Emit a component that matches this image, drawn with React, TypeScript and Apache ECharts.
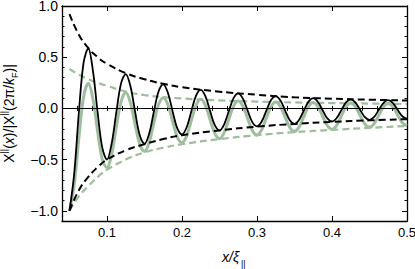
import React, { useEffect, useRef } from "react";
import * as echarts from "echarts";

const curveX = [
  0.05, 0.05625, 0.0625, 0.06875, 0.075, 0.08125, 0.0875, 0.09375,
  0.1, 0.10625, 0.1125, 0.11875, 0.125, 0.13125, 0.1375, 0.14375,
  0.15, 0.15625, 0.1625, 0.16875, 0.175, 0.18125, 0.1875, 0.19375,
  0.2, 0.20625, 0.2125, 0.21875, 0.225, 0.23125, 0.2375, 0.24375,
  0.25, 0.25625, 0.2625, 0.26875, 0.275, 0.28125, 0.2875, 0.29375,
  0.3, 0.30625, 0.3125, 0.31875, 0.325, 0.33125, 0.3375, 0.34375,
  0.35, 0.35625, 0.3625, 0.36875, 0.375, 0.38125, 0.3875, 0.39375,
  0.4, 0.40625, 0.4125, 0.41875, 0.425, 0.43125, 0.4375, 0.44375,
  0.45, 0.45625, 0.4625, 0.46875, 0.475, 0.48125, 0.4875, 0.49375,
  0.5,
];

const blackCurve = [
  -1.0, -0.64, -0.04, 0.444, 0.585, 0.367, -0.04, -0.386,
  -0.5, -0.342, -0.035, 0.244, 0.335, 0.216, -0.035, -0.265,
  -0.346, -0.247, -0.033, 0.165, 0.235, 0.151, -0.03, -0.196,
  -0.255, -0.184, -0.027, 0.124, 0.18, 0.117, -0.027, -0.163,
  -0.215, -0.156, -0.025, 0.1, 0.147, 0.094, -0.022, -0.134,
  -0.175, -0.128, -0.021, 0.081, 0.12, 0.076, -0.021, -0.116,
  -0.152, -0.111, -0.02, 0.066, 0.1, 0.063, -0.018, -0.098,
  -0.128, -0.094, -0.017, 0.058, 0.088, 0.057, -0.015, -0.085,
  -0.112, -0.083, -0.014, 0.053, 0.08, 0.052, -0.014, -0.077,
  -0.102,
];

const grayCurve = [
  -1.0, -0.75, -0.287, 0.109, 0.245, 0.092, -0.225, -0.501,
  -0.58, -0.448, -0.18, 0.064, 0.154, 0.055, -0.158, -0.353,
  -0.42, -0.333, -0.139, 0.037, 0.105, 0.035, -0.128, -0.28,
  -0.335, -0.268, -0.117, 0.03, 0.088, 0.028, -0.11, -0.244,
  -0.295, -0.236, -0.105, 0.022, 0.072, 0.021, -0.099, -0.215,
  -0.26, -0.209, -0.093, 0.018, 0.062, 0.017, -0.086, -0.187,
  -0.225, -0.181, -0.08, 0.018, 0.058, 0.018, -0.077, -0.169,
  -0.205, -0.165, -0.073, 0.016, 0.052, 0.015, -0.07, -0.152,
  -0.185, -0.149, -0.066, 0.015, 0.048, 0.015, -0.064, -0.14,
  -0.17,
];

const envX = [0.05, 0.0625, 0.075, 0.0875, 0.1, 0.125, 0.15, 0.175, 0.2, 0.25, 0.3, 0.35, 0.4, 0.45, 0.5];
const blackUpper = [0.92, 0.72, 0.59, 0.5, 0.435, 0.345, 0.285, 0.24, 0.207, 0.163, 0.133, 0.108, 0.095, 0.085, 0.077];
const blackLower = [-1.0, -0.8, -0.67, -0.575, -0.5, -0.41, -0.35, -0.3, -0.262, -0.215, -0.178, -0.152, -0.132, -0.117, -0.105];
const grayUpper = [0.385, 0.33, 0.285, 0.25, 0.22, 0.165, 0.13, 0.11, 0.097, 0.078, 0.066, 0.058, 0.052, 0.047, 0.042];
const grayLower = [-1.0, -0.86, -0.76, -0.67, -0.6, -0.5, -0.43, -0.385, -0.35, -0.3, -0.262, -0.232, -0.21, -0.19, -0.172];

const xTickValues = [0.1, 0.2, 0.3, 0.4, 0.5];
const xTickLabels = ["0.1", "0.2", "0.3", "0.4", "0.5"];
const yTickValues = [-1.0, -0.5, 0.0, 0.5, 1.0];
const yTickLabels = ["\u22121.0", "\u22120.5", "0.0", "0.5", "1.0"];

const FONT = "'Liberation Sans', Arial, Helvetica, sans-serif";
const GREEN = "#9fbd9f";

function pairs(xs: number[], ys: number[]) {
  return xs.map((x, i) => [x, ys[i]]);
}

function lookup(vals: number[], labels: string[], v: number) {
  for (let i = 0; i < vals.length; i++) {
    if (Math.abs(vals[i] - v) < 1e-6) return labels[i];
  }
  return "";
}

export default function App() {
  const ref = useRef<HTMLDivElement>(null);
  useEffect(() => {
    if (!ref.current) return;
    const chart = echarts.init(ref.current, undefined, { renderer: "svg" });
    const lineStyle = { color: "#000", width: 1.3 };
    const tickStyle = { color: "#000", width: 1 };
    const xMajor = (pos: "bottom" | "top", labels: boolean): any => ({
      type: "value",
      position: pos,
      min: 0.04,
      max: 0.5,
      splitNumber: 5,
      axisLine: { show: true, onZero: false, lineStyle },
      axisTick: { show: true, inside: true, length: 5, lineStyle: tickStyle },
      axisLabel: labels
        ? {
            show: true,
            margin: 5,
            fontSize: 13,
            color: "#000",
            fontFamily: FONT,
            formatter: (v: number) => lookup(xTickValues, xTickLabels, v),
          }
        : { show: false },
      splitLine: { show: false },
    });
    const xMinor = (pos: "bottom" | "top"): any => ({
      type: "value",
      position: pos,
      min: 0.04,
      max: 0.5,
      interval: 0.02,
      axisLine: { show: false },
      axisTick: { show: true, inside: true, length: 2.5, lineStyle: tickStyle },
      axisLabel: { show: false },
      splitLine: { show: false },
    });
    const yMajor = (pos: "left" | "right", labels: boolean): any => ({
      type: "value",
      position: pos,
      min: -1.1,
      max: 1.0,
      splitNumber: 4,
      axisLine: { show: true, onZero: false, lineStyle },
      axisTick: { show: true, inside: true, length: 5, lineStyle: tickStyle },
      axisLabel: labels
        ? {
            show: true,
            margin: 4,
            fontSize: 14,
            lineHeight: 10,
            color: "#000",
            fontFamily: FONT,
            formatter: (v: number) => lookup(yTickValues, yTickLabels, v),
          }
        : { show: false },
      splitLine: { show: false },
    });
    const yMinor = (pos: "left" | "right"): any => ({
      type: "value",
      position: pos,
      min: -1.1,
      max: 1.0,
      interval: 0.1,
      axisLine: { show: false },
      axisTick: { show: true, inside: true, length: 2.5, lineStyle: tickStyle },
      axisLabel: { show: false },
      splitLine: { show: false },
    });

    const yA = yMajor("left", true);
    yA.name =
      "{n|X}{hi|||}{n|(}{it|x}{n|)/|X}{hi|||}{n|(2\u03C0/}{it|k}{lo|F}{n|)|}";
    yA.nameLocation = "middle";
    yA.nameRotate = 90;
    yA.nameGap = 40;
    yA.nameTextStyle = {
      fontFamily: FONT,
      color: "#000",
      rich: {
        it: { fontSize: 14, fontStyle: "italic", fontFamily: FONT, color: "#000", lineHeight: 20 },
        n: { fontSize: 14, fontFamily: FONT, color: "#000", lineHeight: 20 },
        hi: { fontSize: 9, fontFamily: FONT, color: "#000", verticalAlign: "top", lineHeight: 12 },
        lo: { fontSize: 9, fontFamily: FONT, color: "#000", verticalAlign: "bottom", lineHeight: 12 },
      },
    };

    chart.setOption({
      animation: false,
      grid: { left: 62, right: 8, top: 6, bottom: 48, containLabel: false, outerBoundsMode: "none" },
      xAxis: [xMajor("bottom", true), xMinor("bottom"), xMajor("top", false), xMinor("top")],
      yAxis: [yA, yMinor("left"), yMajor("right", false), yMinor("right")],
      graphic: [
        {
          type: "text",
          left: 222,
          top: 250,
          silent: true,
          style: { text: "x/\u03BE", fontSize: 14, fontStyle: "italic", fontFamily: FONT, fill: "#000" },
        },
        {
          type: "text",
          left: 241,
          top: 259,
          silent: true,
          style: { text: "||", fontSize: 9, fontFamily: FONT, fill: "#000" },
        },
      ],
      series: [
        {
          type: "line",
          name: "gray",
          data: pairs(curveX, grayCurve),
          showSymbol: false,
          smooth: 0.35,
          lineStyle: { color: GREEN, width: 3 },
          z: 2,
        },
        {
          type: "line",
          name: "grayUpper",
          data: pairs(envX, grayUpper),
          showSymbol: false,
          smooth: true,
          lineStyle: { color: GREEN, width: 2.2, type: [7, 4] },
          z: 3,
        },
        {
          type: "line",
          name: "grayLower",
          data: pairs(envX, grayLower),
          showSymbol: false,
          smooth: true,
          lineStyle: { color: GREEN, width: 2.2, type: [7, 4] },
          z: 3,
        },
        {
          type: "line",
          name: "black",
          data: pairs(curveX, blackCurve),
          showSymbol: false,
          smooth: 0.35,
          lineStyle: { color: "#000", width: 1.8 },
          z: 5,
          markLine: {
            silent: true,
            symbol: ["none", "none"],
            label: { show: false },
            lineStyle: { color: "#000", width: 1.2, type: "solid" },
            data: [{ yAxis: 0 }],
          },
        },
        {
          type: "line",
          name: "blackUpper",
          data: pairs(envX, blackUpper),
          showSymbol: false,
          smooth: true,
          lineStyle: { color: "#000", width: 2, type: [7, 4] },
          z: 4,
        },
        {
          type: "line",
          name: "blackLower",
          data: pairs(envX, blackLower),
          showSymbol: false,
          smooth: true,
          lineStyle: { color: "#000", width: 2, type: [7, 4] },
          z: 4,
        },
      ],
    });
    return () => chart.dispose();
  }, []);
  return (
    <div
      ref={ref}
      style={{ position: "fixed", left: 0, top: 0, width: 415, height: 269, background: "#fff" }}
    />
  );
}
